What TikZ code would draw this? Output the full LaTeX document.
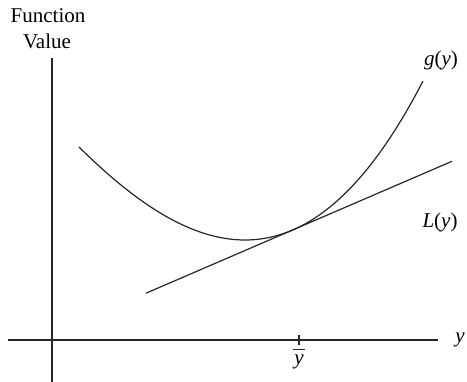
\documentclass[tikz,border=0pt]{standalone}
\usepackage{fontspec}
\setmainfont{Liberation Serif}
\newfontfamily\tmsfont{Liberation Serif}
\begin{document}
\begin{tikzpicture}[x=1pt,y=-1pt,
  lbl/.style={inner sep=0pt,font=\tmsfont\fontsize{21}{25}\selectfont},
  axis/.style={line width=1.3pt,black!85},
  crv/.style={line width=1.2pt,black!85}]
\useasboundingbox (0,0) rectangle (467,382);
% axes
\coordinate (vtop) at (52,58);
\coordinate (vbot) at (52,382);
\coordinate (hl) at (8,340);
\coordinate (hr) at (438,340);
\draw[axis] (vtop) -- (vbot);
\draw[axis] (hl) -- (hr);
% tick
\coordinate (tt) at (299,335);
\coordinate (tb) at (299,345);
\draw[axis] (tt) -- (tb);
% labels
\node[lbl] (f1) at (48,16) {Function};
\node[lbl] (f2) at (47,41) {Value};
\node[lbl] (gl) at (441,60) {\textit{g}(\textit{y})};
\node[lbl] (ll) at (440,222) {\textit{L}(\textit{y})};
\node[lbl] (yl) at (460,340) {\textit{y}};
\node[lbl] (yb) at (299,362) {\textit{y}};
\coordinate (bl) at (293,350);
\coordinate (br) at (305,350);
\draw[line width=1pt,black!85] (bl) -- (br);
% curve
\draw[crv] plot[domain=-1.66:1.78,samples=120,smooth,variable=\t] ({245+100*\t},{240-41.68*\t*\t-4.777*\t*\t*\t});
% tangent line
\coordinate (la) at (146,293.2);
\coordinate (lb) at (452,161.3);
\draw[crv] (la) -- (lb);
\end{tikzpicture}
\end{document}
